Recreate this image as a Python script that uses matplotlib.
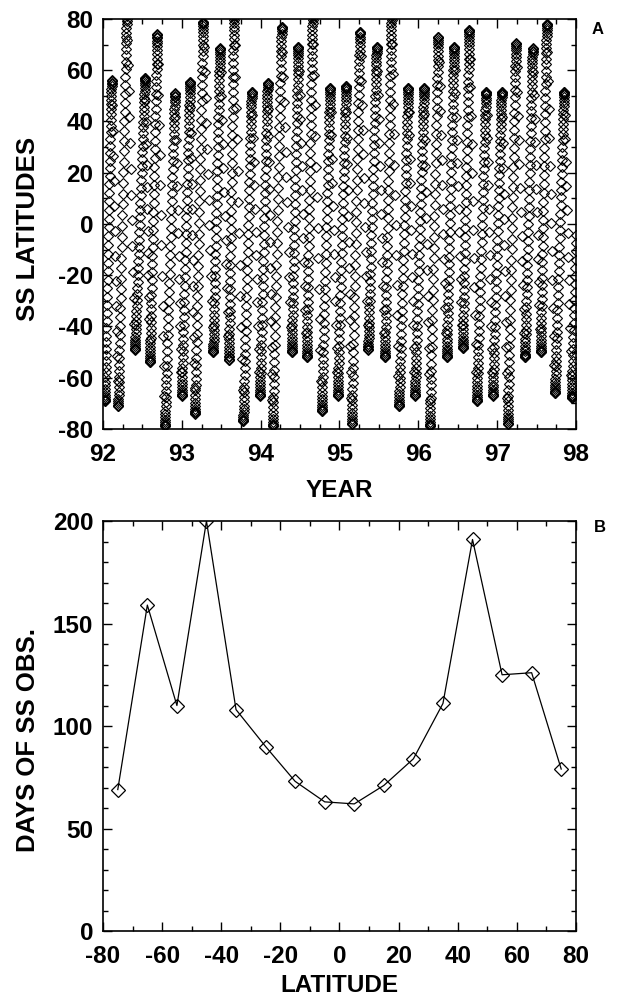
import numpy as np
import matplotlib.pyplot as plt
from matplotlib.ticker import MultipleLocator

plt.rcParams['font.family'] = ['Liberation Sans', 'DejaVu Sans']
plt.rcParams['font.weight'] = 'bold'
plt.rcParams['axes.unicode_minus'] = False

# panel A: each sweep of the SS latitude
# (year at the low end, low latitude, year at the high end, high latitude)
sweep_year_lo = [92.025, 92.194, 92.406, 92.596, 92.786, 92.998, 93.167, 93.399,
                 93.598, 93.780, 93.992, 94.153, 94.394, 94.584, 94.774, 94.977,
                 95.155, 95.365, 95.577, 95.755, 95.958, 96.148, 96.360, 96.563,
                 96.741, 96.944, 97.134, 97.353, 97.552, 97.734, 97.946]
sweep_lat_lo = [-69, -71, -49, -54, -79, -67, -74, -50,
                -53, -77, -67, -79, -50, -52, -73, -67,
                -78, -49, -52, -71, -67, -79, -52, -48.5,
                -69, -67, -78, -52, -50, -66, -68]
sweep_year_hi = [92.110, 92.301, 92.533, 92.689, 92.913, 93.104, 93.272, 93.484,
                 93.662, 93.886, 94.089, 94.267, 94.478, 94.660, 94.880, 95.083,
                 95.260, 95.472, 95.662, 95.873, 96.072, 96.253, 96.453, 96.647,
                 96.859, 97.058, 97.239, 97.451, 97.629, 97.848, 98.051]
sweep_lat_hi = [56, 82, 57, 74, 51, 55.5, 79, 68.5,
                82, 51.6, 55, 77, 69, 82, 53, 54,
                75, 69, 82, 53, 53, 73, 69, 75.6,
                51.6, 51.6, 70.5, 68.5, 78, 51.6, 50]

# panel B
lat_bins = [-75, -65, -55, -45, -35, -25, -15, -5, 5, 15, 25, 35, 45, 55, 65, 75]
days_obs = [69, 159, 110, 200, 108, 90, 73, 63, 62, 71, 84, 111, 191, 125, 126, 79]

fig = plt.figure(figsize=(6.19, 9.97), dpi=100)
axA = fig.add_axes([0.1664, 0.5697, 0.7641, 0.4113])
axB = fig.add_axes([0.1664, 0.0662, 0.7641, 0.4112])

# rising sweeps: slow near the turning points, daily samples
n_up = 58
s = (1 - np.cos(np.pi * np.linspace(0, 1, n_up))) / 2
n_dn = 12
r = np.linspace(0, 1, n_dn + 2)[1:-1]
xs, ys = [], []
for i in range(len(sweep_year_lo)):
    xs.append(sweep_year_lo[i] + (sweep_year_hi[i] - sweep_year_lo[i]) * s)
    ys.append(sweep_lat_lo[i] + (sweep_lat_hi[i] - sweep_lat_lo[i]) * s)
    if i + 1 < len(sweep_year_lo):
        xs.append(sweep_year_hi[i] + (sweep_year_lo[i + 1] - sweep_year_hi[i]) * r)
        ys.append(sweep_lat_hi[i] + (sweep_lat_lo[i + 1] - sweep_lat_hi[i]) * r)
xs = np.concatenate(xs)
ys = np.concatenate(ys)

axA.plot(xs, ys, ls='none', marker='D', ms=5.0, mfc='none', mec='black', mew=0.8)
axA.set_xlim(92, 98)
axA.set_ylim(-80, 80)
axA.xaxis.set_major_locator(MultipleLocator(1))
axA.xaxis.set_minor_locator(MultipleLocator(0.25))
axA.yaxis.set_major_locator(MultipleLocator(20))
axA.yaxis.set_minor_locator(MultipleLocator(10))
axA.xaxis.set_major_formatter(plt.FuncFormatter(lambda v, p: '%d' % round(v)))
axA.set_xlabel('YEAR', fontsize=17.5, fontweight='bold')
axA.set_ylabel('SS LATITUDES', fontsize=18.5, fontweight='bold')
axA.xaxis.set_label_coords(0.50, -0.122)
axA.yaxis.set_label_coords(-0.134, 0.488)
fig.text(0.966, 0.970, 'A', fontsize=12, fontweight='bold', ha='center', va='center')

axB.plot(lat_bins, days_obs, color='black', lw=0.9, marker='D', ms=7.2,
         mfc='none', mec='black', mew=0.9)
axB.set_xlim(-80, 80)
axB.set_ylim(0, 200)
axB.xaxis.set_major_locator(MultipleLocator(20))
axB.xaxis.set_minor_locator(MultipleLocator(10))
axB.yaxis.set_major_locator(MultipleLocator(50))
axB.yaxis.set_minor_locator(MultipleLocator(10))
axB.set_xlabel('LATITUDE', fontsize=17.5, fontweight='bold')
axB.set_ylabel('DAYS OF SS OBS.', fontsize=18.5, fontweight='bold')
axB.xaxis.set_label_coords(0.50, -0.104)
axB.yaxis.set_label_coords(-0.134, 0.466)
fig.text(0.969, 0.471, 'B', fontsize=12, fontweight='bold', ha='center', va='center')

for ax in (axA, axB):
    ax.tick_params(which='both', direction='in', top=True, right=True,
                   labelsize=17.5, width=1.0)
    ax.tick_params(which='major', length=6.5)
    ax.tick_params(which='minor', length=3.5)
    ax.tick_params(axis='x', which='major', pad=10)
    ax.tick_params(axis='y', which='major', pad=7)
    for sp in ax.spines.values():
        sp.set_linewidth(1.2)
    for lab in ax.get_xticklabels() + ax.get_yticklabels():
        lab.set_fontweight('bold')

fig.savefig('out.png', dpi=100)
